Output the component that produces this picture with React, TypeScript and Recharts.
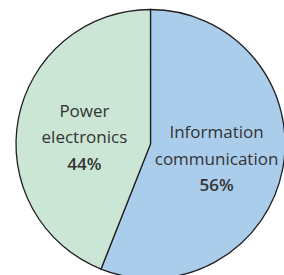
import React from 'react';
import { PieChart, Pie, Cell } from 'recharts';

const categories = ['Information communication', 'Power electronics'];
const labelLines = [['Information', 'communication'], ['Power', 'electronics']];
const values = [56, 44];
const colors = ['#abcdec', '#cbe6d5'];

const data = categories.map((name, i) => ({ name, value: values[i], lines: labelLines[i] }));

const RAD = Math.PI / 180;

const renderLabel = (props: any) => {
  const { cx, cy, midAngle, outerRadius, index } = props;
  const x = cx + outerRadius * 0.5 * Math.cos(-midAngle * RAD);
  const y = cy + outerRadius * 0.42 * Math.sin(-midAngle * RAD) + 10;
  const lines = data[index].lines;
  const lh = 26.5;
  return (
    <text x={x} y={y} textAnchor="middle" fill="#333" fontFamily="'Open Sans', sans-serif" fontSize={17}>
      <tspan x={x} y={y - lh}>{lines[0]}</tspan>
      <tspan x={x} y={y}>{lines[1]}</tspan>
      <tspan x={x} y={y + lh} fontWeight={600}>{data[index].value}%</tspan>
    </text>
  );
};

export default function App() {
  return (
    <div style={{ position: 'absolute', left: 0, top: 0, background: '#fff' }}>
      <PieChart width={284} height={275} margin={{ top: 0, right: 0, bottom: 0, left: 0 }}>
        <Pie
          data={data}
          dataKey="value"
          nameKey="name"
          cx={150.5}
          cy={144}
          outerRadius={134.5}
          startAngle={90}
          endAngle={-270}
          stroke="#231f20"
          strokeWidth={1.3}
          label={renderLabel}
          labelLine={false}
          isAnimationActive={false}
        >
          {data.map((d, i) => (
            <Cell key={d.name} fill={colors[i]} />
          ))}
        </Pie>
      </PieChart>
    </div>
  );
}
